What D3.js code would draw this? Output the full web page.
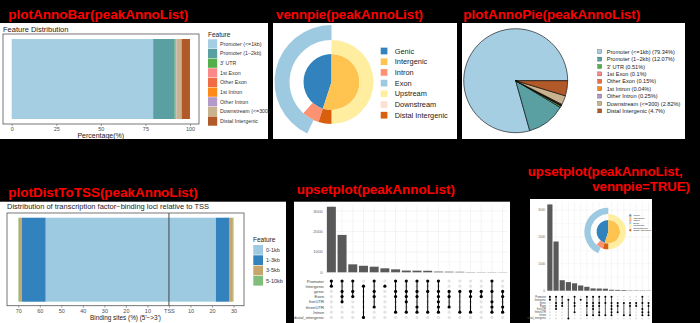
<!DOCTYPE html>
<html><head><meta charset="utf-8">
<script src="https://cdn.jsdelivr.net/npm/d3@7"></script>
<style>body{margin:0;background:#000;}svg{display:block;font-family:"Liberation Sans",Arial,sans-serif;}</style>
</head><body><svg id="c" width="700" height="323"></svg>
<script>
// ---------- DATA ----------
const annoFeatures = ["Promoter (<=1kb)", "Promoter (1\u22122kb)", "3' UTR", "1st Exon", "Other Exon", "1st Intron", "Other Intron", "Downstream (<=300)", "Distal Intergenic"];
const annoPercent = [79.34, 12.07, 0.51, 0.1, 0.15, 0.04, 0.25, 2.82, 4.7];
const annoColors = ["#A6CEE3", "#5A9FA1", "#54AF4B", "#F98A89", "#F06C45", "#FE8A1A", "#B49AC9", "#C8B38E", "#B15928"];
const barTicks = [0, 25, 50, 75, 100];

const vennCats = ["Genic", "Intergenic", "Intron", "Exon", "Upstream", "Downstream", "Distal Intergenic"];
const vennColors = ["#3182BD", "#FEC44F", "#FC9272", "#9ECAE1", "#FFEDA0", "#FEE0D2", "#D95F0E"];
const vennLevel = [0, 0, 1, 2, 1, 1, 1];
const vennStart = [0.55, 0.0, 0.55, 0.57, 0.0, 0.0, 0.5];
const vennEnd   = [1.0, 0.55, 0.617, 1.0, 0.5, 0.0, 0.55];

const tssFeatures = ["0-1kb", "1-3kb", "3-5kb", "5-10kb"];
const tssColors = ["#9ECAE1", "#3182BD", "#C6A66C", "#7FBF7B"];
const tssUpstream = [57.3, 11.0, 1.5, 0.2];
const tssDownstream = [21.8, 6.1, 1.8, 0.3];
const tssTicks = [-70, -60, -50, -40, -30, -20, -10, 0, 10, 20, 30];

const upsetSets = ["Promoter", "Intergenic", "genic", "Exon", "fiveUTR", "threeUTR", "Intron", "distal_intergenic"];
const upsetCounts = [3210, 1830, 390, 320, 275, 195, 145, 85, 80, 75, 35, 30, 25, 12, 10, 10, 8];
const upsetMembers = [[0,1],[0,2,3,4],[0,2,3],[1,7],[0,2,3,5],[1],[0,2,3,6],[0,2,3,4,6],[0,2,3,5,6],[0,2,6],[0,2,3,4,5,6],[2,3,5],[2,6],[2,3,6],[2,3],[0,2,4,5,6],[2,3,5,6]];
const upsetTicks = [0, 1000, 2000, 3000];

const titles = ["plotAnnoBar(peakAnnoList)", "vennpie(peakAnnoList)", "plotAnnoPie(peakAnnoList)", "plotDistToTSS(peakAnnoList)", "upsetplot(peakAnnoList)", "upsetplot(peakAnnoList,", "vennpie=TRUE)"];

// ---------- DRAW ----------
const svg = d3.select("#c");
svg.append("rect").attr("width", 700).attr("height", 323).attr("fill", "#000");
function panel(x, y, w, h) { svg.append("rect").attr("x", x).attr("y", y).attr("width", w).attr("height", h).attr("fill", "#fff"); }
function title(t, x, y, w) {
  const e = svg.append("text").attr("x", x).attr("y", y).attr("fill", "#FF0000").attr("font-weight", "bold")
    .attr("font-size", 15).text(t);
  const nat = e.node().getComputedTextLength();
  if (nat > w) e.attr("font-size", Math.max(13, 15 * w / nat));
  e.attr("textLength", w).attr("lengthAdjust", "spacingAndGlyphs");
}
function txt(g, t, x, y, size, opts = {}) {
  const e = g.append("text").attr("x", x).attr("y", y).attr("font-size", size).attr("fill", opts.fill || "#222")
    .attr("text-anchor", opts.anchor || "start").text(t);
  if (opts.len) e.attr("textLength", opts.len).attr("lengthAdjust", "spacingAndGlyphs");
  return e;
}

panel(0, 23, 268, 116);
panel(273, 23, 184, 116);
panel(462, 23, 223, 116);
panel(0, 201.7, 286, 122);
panel(294, 201.7, 216, 122);
panel(530, 199, 122, 124);

title(titles[0], 8.3, 18.5, 180);
title(titles[1], 276, 18.5, 147);
title(titles[2], 463.3, 18.5, 177);
title(titles[3], 8.3, 196.5, 189.4);
title(titles[4], 296.7, 194, 158.3);
title(titles[5], 527.7, 175.5, 155);
title(titles[6], 592.3, 191.2, 97.7);

// ----- Panel 1: plotAnnoBar -----
{
  const g = svg.append("g");
  txt(g, "Feature Distribution", 3, 31.5, 7.5, { fill: "#222" });
  const x = d3.scaleLinear().domain([0, 100]).range([11.7, 190]);
  let cum = 0;
  annoPercent.forEach((v, i) => {
    g.append("rect").attr("x", x(cum)).attr("y", 39).attr("width", x(cum + v) - x(cum)).attr("height", 80).attr("fill", annoColors[i]);
    cum += v;
  });
  g.append("rect").attr("x", 3).attr("y", 34).attr("width", 196).attr("height", 90).attr("fill", "none").attr("stroke", "#555").attr("stroke-width", 0.8);
  const ax = g.append("g").attr("transform", "translate(0,124)").call(d3.axisBottom(x).tickValues(barTicks).tickSize(2).tickPadding(1.5));
  ax.select(".domain").remove();
  ax.selectAll("line").attr("stroke", "#444").attr("stroke-width", 0.5);
  ax.selectAll("text").attr("font-size", 5.5).attr("fill", "#4D4D4D").attr("font-family", "Liberation Sans, Arial");
  txt(g, "Percentage(%)", 100.8, 137.5, 7, { anchor: "middle", fill: "#222" });
  txt(g, "Feature", 208, 37, 6.5, { fill: "#222" });
  annoFeatures.forEach((f, i) => {
    g.append("rect").attr("x", 208).attr("y", 39.3 + i * 9.65).attr("width", 9.2).attr("height", 9.2).attr("fill", annoColors[i]);
    txt(g, f, 220, 39.3 + i * 9.65 + 6.5, 5.3, { fill: "#333" });
  });
}

// ----- vennpie drawer -----
function drawVenn(cx, cy, s, lx, ly, key, rowH, fs) {
  const g = svg.append("g").attr("transform", `translate(${cx},${cy})`);
  const radii = [[0, 28], [28, 42], [42, 57]];
  vennCats.forEach((c, i) => {
    if (vennEnd[i] <= vennStart[i]) return;
    const r = radii[vennLevel[i]];
    const arc = d3.arc().innerRadius(r[0] * s).outerRadius(r[1] * s)
      .startAngle(vennStart[i] * 2 * Math.PI).endAngle(vennEnd[i] * 2 * Math.PI);
    g.append("path").attr("d", arc()).attr("fill", vennColors[i]);
  });
  const lg = svg.append("g");
  vennCats.forEach((c, i) => {
    lg.append("rect").attr("x", lx).attr("y", ly + i * rowH - key / 2).attr("width", key).attr("height", key).attr("fill", vennColors[i]);
    txt(lg, c, lx + key * 2.1, ly + i * rowH + fs * 0.36, fs, { fill: "#222" });
  });
}
drawVenn(331.5, 82, 1, 380.7, 51, 6.7, 10.7, 7.4);

// ----- Panel 3: plotAnnoPie -----
{
  const g = svg.append("g").attr("transform", "translate(515.7,80.7)");
  const pie = d3.pie().sort(null).value(d => d)(annoPercent);
  const arc = d3.arc().innerRadius(0).outerRadius(52);
  pie.forEach((p, i) => {
    g.append("path").attr("d", arc({ startAngle: Math.PI / 2 - p.endAngle, endAngle: Math.PI / 2 - p.startAngle }))
      .attr("fill", annoColors[i]).attr("stroke", "#000").attr("stroke-width", 0.6);
  });
  const lg = svg.append("g");
  annoFeatures.forEach((f, i) => {
    const y = 51.7 + i * 7.4;
    lg.append("rect").attr("x", 597.7).attr("y", y - 2).attr("width", 4).attr("height", 4).attr("fill", annoColors[i]).attr("stroke", "#333").attr("stroke-width", 0.3);
    txt(lg, `${f} (${annoPercent[i]}%)`, 606.7, y + 2, 5.6, { fill: "#222" });
  });
}

// ----- Panel 4: plotDistToTSS -----
{
  const g = svg.append("g");
  txt(g, "Distribution of transcription factor\u2212binding loci relative to TSS", 7, 209.3, 6.5, { fill: "#222", len: 202 });
  const x = d3.scaleLinear().domain([-70, 30]).range([18.3, 233.5]);
  let cu = 0, cd = 0;
  tssFeatures.forEach((f, i) => {
    g.append("rect").attr("x", x(-(cu + tssUpstream[i]))).attr("y", 217.7).attr("width", x(-cu) - x(-(cu + tssUpstream[i]))).attr("height", 84).attr("fill", tssColors[i]);
    cu += tssUpstream[i];
    g.append("rect").attr("x", x(cd)).attr("y", 217.7).attr("width", x(cd + tssDownstream[i]) - x(cd)).attr("height", 84).attr("fill", tssColors[i]);
    cd += tssDownstream[i];
  });
  g.append("line").attr("x1", x(0)).attr("x2", x(0)).attr("y1", 213).attr("y2", 305.7).attr("stroke", "#333").attr("stroke-width", 0.9);
  g.append("rect").attr("x", 7).attr("y", 213).attr("width", 237).attr("height", 92.7).attr("fill", "none").attr("stroke", "#555").attr("stroke-width", 0.8);
  const ax = g.append("g").attr("transform", "translate(0,305.7)")
    .call(d3.axisBottom(x).tickValues(tssTicks).tickSize(2).tickPadding(1.5).tickFormat(d => d === 0 ? "TSS" : Math.abs(d)));
  ax.select(".domain").remove();
  ax.selectAll("line").attr("stroke", "#444").attr("stroke-width", 0.5);
  ax.selectAll("text").attr("font-size", 5.5).attr("fill", "#4D4D4D").attr("font-family", "Liberation Sans, Arial");
  txt(g, "Binding sites (%) (5'\u2212>3')", 125.5, 320, 6.5, { anchor: "middle", fill: "#222", len: 71 });
  txt(g, "Feature", 253, 242, 6.5, { fill: "#222" });
  tssFeatures.forEach((f, i) => {
    g.append("rect").attr("x", 253.3).attr("y", 245 + i * 10.3).attr("width", 9.7).attr("height", 9.7).attr("fill", tssColors[i]);
    txt(g, f, 266, 245 + i * 10.3 + 6.8, 5.5, { fill: "#333" });
  });
}

// ----- upset drawer -----
function drawUpset(o) {
  const g = svg.append("g");
  const x = d3.scaleBand().domain(d3.range(upsetCounts.length)).range([o.x0, o.x1]).paddingInner(0.16).paddingOuter(0.08);
  const y = d3.scaleLinear().domain([0, 3300]).range([o.yBase, o.yTop]);
  d3.range(0, 3300, 500).forEach(v => {
    g.append("line").attr("x1", o.x0).attr("x2", o.x1).attr("y1", y(v)).attr("y2", y(v))
      .attr("stroke", v % 1000 === 0 ? "#E8E8E8" : "#F3F3F3").attr("stroke-width", o.gw);
  });
  upsetCounts.forEach((c, i) => {
    const cx = x(i) + x.bandwidth() / 2;
    g.append("line").attr("x1", cx).attr("x2", cx).attr("y1", o.yTop).attr("y2", o.yBase).attr("stroke", "#E8E8E8").attr("stroke-width", o.gw);
  });
  upsetCounts.forEach((c, i) => {
    g.append("rect").attr("x", x(i)).attr("y", y(c)).attr("width", x.bandwidth()).attr("height", y(0) - y(c)).attr("fill", "#595959");
  });
  upsetTicks.forEach(t => txt(g, t, o.axX, y(t) + o.afs * 0.36, o.afs, { anchor: "end", fill: "#666" }));
  upsetSets.forEach((s, r) => {
    txt(g, s, o.labX, o.rowY0 + r * o.rowH + o.lfs * 0.36, o.lfs, { anchor: "end", fill: "#444" });
  });
  upsetMembers.forEach((m, i) => {
    const cx = x(i) + x.bandwidth() / 2;
    upsetSets.forEach((s, r) => {
      if (!m.includes(r)) g.append("circle").attr("cx", cx).attr("cy", o.rowY0 + r * o.rowH).attr("r", o.dot).attr("fill", "#E3E3E3");
    });
    const lo = d3.min(m), hi = d3.max(m);
    if (hi > lo) g.append("line").attr("x1", cx).attr("x2", cx).attr("y1", o.rowY0 + lo * o.rowH).attr("y2", o.rowY0 + hi * o.rowH).attr("stroke", "#000").attr("stroke-width", o.lw);
    m.forEach(r => g.append("circle").attr("cx", cx).attr("cy", o.rowY0 + r * o.rowH).attr("r", o.dot).attr("fill", "#000"));
  });
}
drawUpset({ x0: 326, x1: 508, yBase: 272.3, yTop: 204.9, axX: 322.7, afs: 4.3, rowY0: 281, rowH: 5.2, labX: 324, lfs: 4.2, dot: 1.6, lw: 1, gw: 0.5 });
drawUpset({ x0: 546.8, x1: 651.6, yBase: 290.7, yTop: 202, axX: 545, afs: 3, rowY0: 296.7, rowH: 3.1, labX: 546, lfs: 2.6, dot: 1, lw: 0.6, gw: 0.4 });
drawVenn(608.3, 231.7, 0.42, 629.3, 215.5, 2, 2.45, 2.5);
</script></body></html>
